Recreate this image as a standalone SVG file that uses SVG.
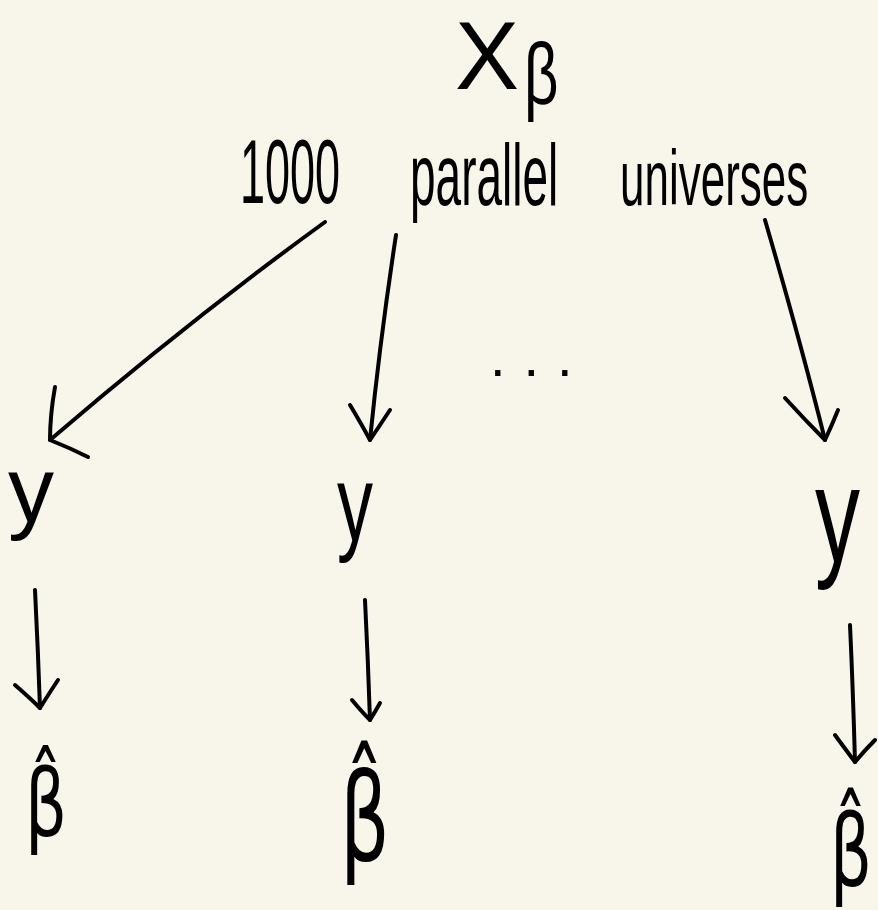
<svg xmlns="http://www.w3.org/2000/svg" width="878" height="910" viewBox="0 0 878 910">
  <style>
    .ink { fill: #000; font-family: "Liberation Sans", "DejaVu Sans", sans-serif; }
    .hat { fill: #000; font-family: "DejaVu Sans", "Liberation Sans", sans-serif; }
    .stroke { fill: none; stroke: #000; stroke-width: 4; stroke-linecap: round; stroke-linejoin: round; }
  </style>
  <rect width="878" height="910" fill="#F8F6EA"/>

  <!-- root: X_beta and caption (tall, narrow lettering via vertical scale) -->
  <g id="root">
    <text class="ink" x="455" y="89" font-size="96">X</text>
    <text class="ink" font-size="60" transform="translate(524,104) scale(1,1.45)">β</text>
  </g>
  <g id="caption">
    <text class="ink" font-size="45" transform="translate(240,203) scale(1,2)">1000</text>
    <text class="ink" font-size="46" transform="translate(410,205) scale(1,1.9)">parallel</text>
    <text class="ink" font-size="44" transform="translate(620,205) scale(1,1.75)">universes</text>
  </g>
  <g id="ellipsis">
    <text class="ink" x="490" y="376" font-size="56" letter-spacing="18">...</text>
  </g>

  <!-- universe outcomes -->
  <g id="y1"><text class="ink" x="8" y="522" font-size="92">y</text></g>
  <g id="y2"><text class="ink" font-size="72" transform="translate(337,541) scale(1,1.5)">y</text></g>
  <g id="y3"><text class="ink" font-size="90" transform="translate(815,562) scale(1,1.5)">y</text></g>

  <!-- estimates -->
  <g id="b1"><text class="hat" font-size="66" transform="translate(25,836) scale(1,1.4)">β̂</text></g>
  <g id="b2"><text class="hat" font-size="78" transform="translate(340,860) scale(1,1.55)">β̂</text></g>
  <g id="b3"><text class="hat" font-size="66" transform="translate(830,886) scale(1,1.5)">β̂</text></g>

  <g id="connectors">
    <!-- caption to each universe -->
    <path class="stroke" d="M325 222 Q190 320 50 440"/>
    <path class="stroke" d="M55 387 Q50 415 50 440 Q70 448 88 457"/>
    <path class="stroke" d="M396 235 Q380 340 370 440"/>
    <path class="stroke" d="M350 405 Q362 425 370 440 Q380 425 390 410"/>
    <path class="stroke" d="M765 220 Q800 340 825 440"/>
    <path class="stroke" d="M785 398 Q805 420 825 440 Q832 425 838 410"/>
    <!-- y to estimate -->
    <path class="stroke" d="M35 590 Q38 650 40 708"/>
    <path class="stroke" d="M15 685 Q30 698 40 708 Q50 692 58 680"/>
    <path class="stroke" d="M365 600 Q368 660 370 720"/>
    <path class="stroke" d="M352 700 Q362 712 370 720 Q375 712 380 703"/>
    <path class="stroke" d="M850 625 Q853 690 855 762"/>
    <path class="stroke" d="M835 735 Q846 750 855 762 Q865 750 875 740"/>
  </g>
</svg>
